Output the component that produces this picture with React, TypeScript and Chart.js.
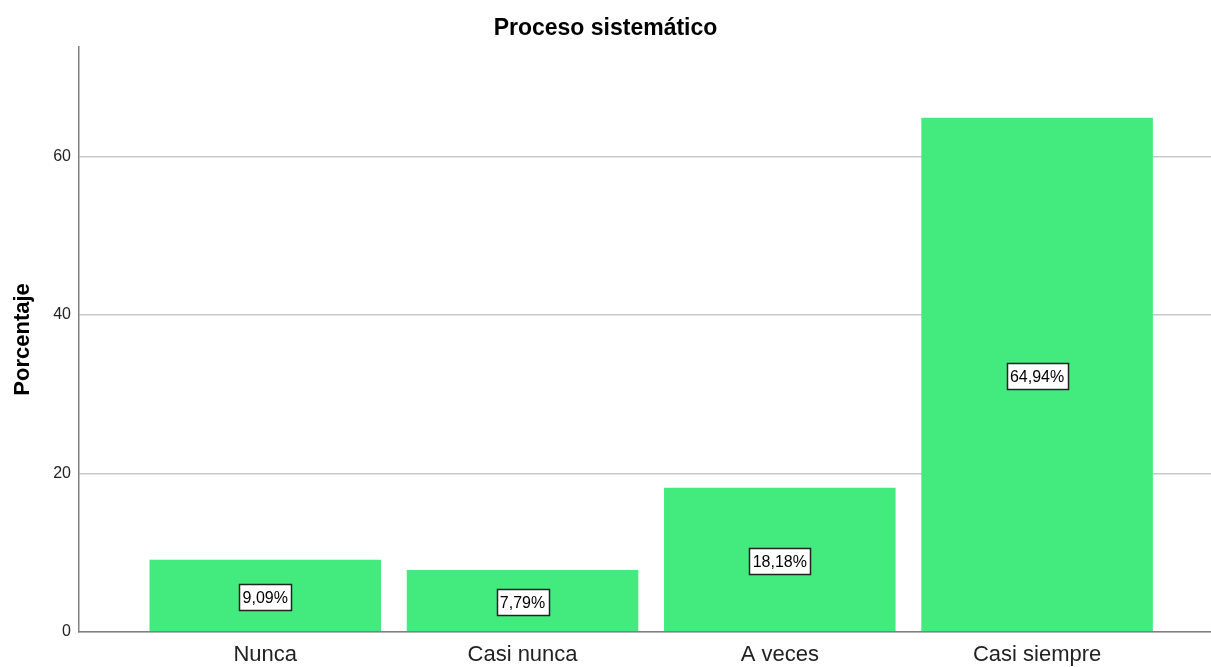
import React, { useEffect, useRef } from "react";
import { Chart, registerables } from "chart.js";

Chart.register(...registerables);

const categories = ["Nunca", "Casi nunca", "A veces", "Casi siempre"];
const percentages = [9.09, 7.79, 18.18, 64.94];
const yTicks = [0, 20, 40, 60];
const chartTitle = "Proceso sistemático";
const yAxisTitle = "Porcentaje";

const FONT = "'Liberation Sans', Arial, Helvetica, sans-serif";

const labelPlugin = {
  id: "boxLabels",
  afterDatasetsDraw(chart: any) {
    const ctx = chart.ctx;
    const meta = chart.getDatasetMeta(0);
    ctx.save();
    ctx.font = `16px ${FONT}`;
    ctx.textAlign = "center";
    ctx.textBaseline = "middle";
    meta.data.forEach((el: any, i: number) => {
      const txt = percentages[i].toFixed(2).replace(".", ",") + "%";
      const w = Math.round(ctx.measureText(txt).width + 7);
      const h = 26;
      const cx = el.x;
      const cy = (el.y + el.base) / 2 + 2;
      const x0 = Math.round(cx - w / 2) + 0.5;
      const y0 = Math.round(cy - h / 2) + 0.5;
      ctx.fillStyle = "#ffffff";
      ctx.fillRect(x0, y0, w, h);
      ctx.strokeStyle = "#222222";
      ctx.lineWidth = 1.5;
      ctx.strokeRect(x0, y0, w, h);
      ctx.fillStyle = "#000000";
      ctx.fillText(txt, cx, cy + 1);
    });
    ctx.restore();
  },
};

export default function App() {
  const ref = useRef<HTMLCanvasElement | null>(null);
  useEffect(() => {
    if (!ref.current) return;
    const chart = new Chart(ref.current, {
      type: "bar",
      data: {
        datasets: [
          {
            data: percentages.map((v, i) => ({ x: i, y: v })),
            backgroundColor: "rgb(67,234,126)",
            borderWidth: 0,
            barPercentage: 0.9,
            categoryPercentage: 1.0,
          },
        ],
      },
      options: {
        animation: false,
        responsive: false,
        maintainAspectRatio: false,
        layout: { padding: { left: 0, right: 0, top: 0, bottom: 0 } },
        plugins: {
          legend: { display: false },
          tooltip: { enabled: false },
          title: {
            display: true,
            text: chartTitle,
            color: "#000000",
            font: { family: FONT, size: 23, weight: "bold" },
            padding: { top: 14.5, bottom: 5 },
          },
        },
        scales: {
          x: {
            type: "linear",
            min: -0.724,
            max: 3.676,
            offset: false,
            grid: { display: false, drawTicks: false },
            border: { display: true, color: "#808080", width: 1.5 },
            afterBuildTicks: (scale: any) => {
              scale.ticks = categories.map((_, i) => ({ value: i }));
            },
            afterFit: (scale: any) => {
              scale.height = 35.3;
            },
            ticks: {
              autoSkip: false,
              maxRotation: 0,
              padding: 10,
              color: "#222222",
              font: { family: FONT, size: 22 },
              callback: (v: any) => categories[v] ?? "",
            },
          },
          y: {
            min: 0,
            max: 73.85,
            grid: { color: "#c8c8c8", lineWidth: 1.5, drawTicks: false },
            border: { display: true, color: "#808080", width: 1.5 },
            afterBuildTicks: (scale: any) => {
              scale.ticks = yTicks.map((v) => ({ value: v }));
            },
            afterFit: (scale: any) => {
              scale.width = 79;
            },
            title: {
              display: true,
              text: yAxisTitle,
              color: "#000000",
              font: { family: FONT, size: 22, weight: "bold" },
              padding: { top: 10, bottom: 0 },
            },
            ticks: {
              padding: 8,
              color: "#222222",
              font: { family: FONT, size: 16 },
            },
          },
        },
      },
      plugins: [labelPlugin],
    });
    return () => chart.destroy();
  }, []);
  return (
    <div style={{ position: "fixed", left: 0, top: 0, width: 1211, height: 667, background: "#ffffff" }}>
      <canvas ref={ref} width={1211} height={667} style={{ display: "block" }} />
    </div>
  );
}
